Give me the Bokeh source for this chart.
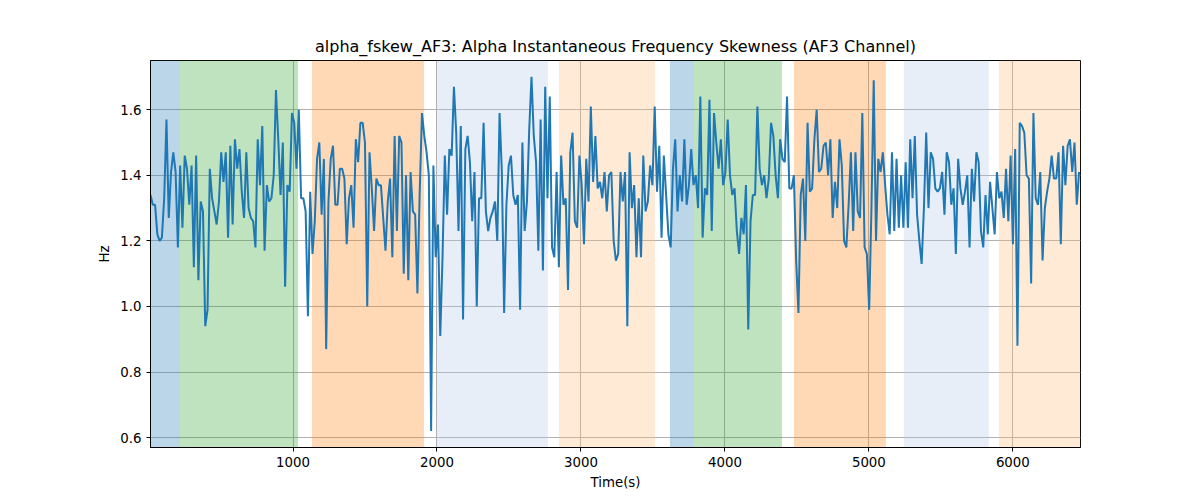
import numpy as np
from bokeh.plotting import figure
from bokeh.models import BoxAnnotation, FixedTicker, NumeralTickFormatter
from bokeh.embed import file_html
from bokeh.resources import INLINE

values = [
    1.34, 1.31, 1.31, 1.22, 1.20, 1.21, 1.33, 1.57, 1.27, 1.41, 1.47, 1.41, 1.18, 1.43, 1.24, 1.46, 1.42, 1.31, 1.43, 1.12,
    1.46, 1.08, 1.32, 1.29, 0.94, 0.99, 1.42, 1.33, 1.29, 1.25, 1.32, 1.47, 1.38, 1.47, 1.21, 1.49, 1.25, 1.51, 1.42, 1.48,
    1.35, 1.27, 1.47, 1.30, 1.27, 1.26, 1.18, 1.51, 1.37, 1.55, 1.17, 1.37, 1.32, 1.33, 1.40, 1.66, 1.51, 1.34, 1.50, 1.06,
    1.37, 1.35, 1.59, 1.56, 1.42, 1.60, 1.33, 1.33, 1.29, 0.97, 1.35, 1.16,
    1.26, 1.45, 1.50, 1.28, 1.45, 0.87, 1.32, 1.45, 1.49, 1.31, 1.31, 1.42, 1.42, 1.39, 1.19, 1.33, 1.37, 1.24, 1.51, 1.44,
    1.56, 1.56, 1.50, 1.00, 1.47, 1.36, 1.23, 1.39, 1.37, 1.37, 1.27, 1.17, 1.32, 1.39, 1.15, 1.52, 1.23, 1.52, 1.50, 1.10,
    1.40, 1.08, 1.41, 1.29, 1.28, 1.04, 1.35, 1.59, 1.52, 1.47, 1.40, 0.62, 1.43, 1.15, 1.25, 0.91, 1.15, 1.46, 1.28, 1.48,
    1.46, 1.67, 1.53, 1.23, 1.55, 0.96, 1.48, 1.52,
    1.44, 1.26, 1.41, 1.00, 1.33, 1.33, 1.56, 1.29, 1.23, 1.27, 1.29, 1.32, 1.20, 1.59, 1.41, 0.98, 1.31, 1.43, 1.46, 1.34,
    1.31, 1.34, 0.99, 1.50, 1.23, 1.32, 1.54, 1.70, 1.52, 1.44, 1.17, 1.57, 1.11, 1.67, 1.33, 1.64, 1.18, 1.15, 1.41, 1.12,
    1.46, 1.31, 1.33, 1.05, 1.47, 1.53, 1.26, 1.24, 1.46, 1.37, 1.19, 1.45, 1.32, 1.61, 1.38, 1.52, 1.36, 1.38, 1.33, 1.41,
    1.29, 1.40, 1.41, 1.20, 1.14,
    1.16, 1.41, 1.32, 1.41, 0.94, 1.47, 1.30, 1.37, 1.15, 1.33, 1.15, 1.46, 1.29, 1.32, 1.43, 1.37, 1.61, 1.35, 1.49, 1.21,
    1.46, 1.34, 1.22, 1.18, 1.42, 1.51, 1.29, 1.40, 1.32, 1.51, 1.31, 1.37, 1.48, 1.37, 1.40, 1.30, 1.64, 1.21, 1.36, 1.34,
    1.63, 1.23, 1.59, 1.50, 1.42, 1.51, 1.37, 1.41, 1.57, 1.40, 1.34, 1.36, 1.23, 1.16, 1.27, 1.22, 1.37, 0.93, 1.26, 1.34,
    1.34, 1.61, 1.42, 1.37, 1.40, 1.33, 1.39, 1.56,
    1.52, 1.40, 1.33, 1.51, 1.45, 1.44, 1.64, 1.36, 1.36, 1.40, 1.14, 0.98, 1.34, 1.39, 1.20, 1.56, 1.35, 1.36, 1.51, 1.60,
    1.41, 1.42, 1.49, 1.50, 1.40, 1.51, 1.27, 1.38, 1.30, 1.51, 1.43, 1.20, 1.18, 1.31, 1.47, 1.23, 1.47, 1.29, 1.27, 1.59,
    1.18, 1.16, 0.99, 1.30, 1.69, 1.20, 1.45, 1.41, 1.47, 1.37, 1.28, 1.22, 1.47, 1.23, 1.45, 1.24, 1.40, 1.24, 1.44, 1.24,
    1.51, 1.33, 1.52, 1.28, 1.20, 1.13,
    1.30, 1.53, 1.30, 1.47, 1.45, 1.36, 1.35, 1.36, 1.41, 1.28, 1.47, 1.44, 1.31, 1.36, 1.16, 1.45, 1.36, 1.31, 1.35, 1.40,
    1.18, 1.42, 1.32, 1.47, 1.44, 1.23, 1.18, 1.34, 1.22, 1.38, 1.30, 1.22, 1.41, 1.33, 1.35, 1.27, 1.42, 1.26, 1.46, 1.19,
    1.48, 0.88, 1.56, 1.55, 1.53, 1.40, 1.39, 1.07, 1.59, 1.33, 1.31, 1.41, 1.14, 1.30, 1.35, 1.39, 1.46, 1.39, 1.39, 1.47,
    1.19, 1.49, 1.37, 1.49, 1.51, 1.41, 1.50, 1.31, 1.41,
]
t_start, t_end = 10, 6460

span_starts = [10, 215, 1132, 2000, 2847, 3618, 3785, 4479, 5243, 5903]
span_ends = [215, 1035, 1910, 2770, 3514, 3785, 4396, 5118, 5833, 6470]
span_colors = ["#1f77b4", "#2ca02c", "#ff7f0e", "#aec7e8", "#ffbb78",
               "#1f77b4", "#2ca02c", "#ff7f0e", "#aec7e8", "#ffbb78"]

t = np.linspace(t_start, t_end, len(values))

p = figure(width=1184, height=492, output_backend="svg", toolbar_location=None,
           x_range=(t_start, 6470), y_range=(0.57, 1.75),
           title="alpha_fskew_AF3: Alpha Instantaneous Frequency Skewness (AF3 Channel)",
           x_axis_label="Time(s)", y_axis_label="Hz",
           min_border_left=150, min_border_right=104, min_border_top=60, min_border_bottom=31)
p.title.align = "center"
p.title.text_font = "DejaVu Sans"
p.title.text_font_style = "normal"
p.title.text_font_size = "12pt"
p.title.text_color = "black"

for s, e, c in zip(span_starts, span_ends, span_colors):
    p.add_layout(BoxAnnotation(left=s, right=e, fill_color=c, fill_alpha=0.3, line_alpha=0, level="underlay"))

p.line(t, values, line_width=2, color="#1f77b4")

p.xaxis.ticker = FixedTicker(ticks=[1000, 2000, 3000, 4000, 5000, 6000])
p.yaxis.ticker = FixedTicker(ticks=[0.6, 0.8, 1.0, 1.2, 1.4, 1.6])
p.yaxis.formatter = NumeralTickFormatter(format="0.0")
for ax in (p.xaxis[0], p.yaxis[0]):
    ax.major_label_text_font = "DejaVu Sans"
    ax.major_label_text_font_size = "10pt"
    ax.major_label_text_color = "black"
    ax.axis_label_text_font = "DejaVu Sans"
    ax.axis_label_text_font_style = "normal"
    ax.axis_label_text_font_size = "10pt"
    ax.axis_label_text_color = "black"
    ax.axis_line_color = "black"
    ax.major_tick_line_color = "black"
    ax.minor_tick_line_color = None
    ax.major_tick_in = 0
    ax.major_tick_out = 4
p.grid.grid_line_color = "#b0b0b0"
p.grid.grid_line_alpha = 1.0
p.outline_line_color = "black"

open("out.html", "w").write(file_html(p, INLINE))
